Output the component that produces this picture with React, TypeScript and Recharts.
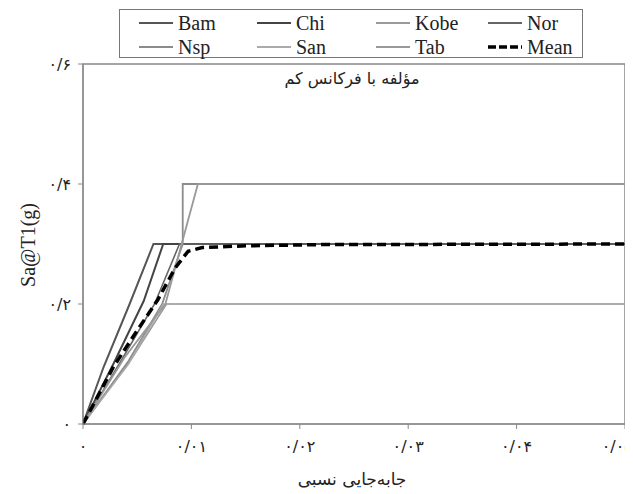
import { LineChart, Line, XAxis, YAxis, ReferenceArea } from 'recharts'

// drift (x) and Sa (y) for each record
const bamDrift = [0, 0.0019, 0.0043, 0.0065, 0.05]
const bamSa = [0, 0.095, 0.2, 0.3, 0.3]
const chiDrift = [0, 0.0028, 0.0056, 0.0074, 0.05]
const chiSa = [0, 0.1, 0.205, 0.3, 0.3]
const kobeDrift = [0, 0.0046, 0.0077, 0.05]
const kobeSa = [0, 0.112, 0.2, 0.2]
const norDrift = [0, 0.0035, 0.0066, 0.0089, 0.05]
const norSa = [0, 0.105, 0.2, 0.3, 0.3]
const nspDrift = [0, 0.0042, 0.0073, 0.0092, 0.0092, 0.05]
const nspSa = [0, 0.105, 0.2, 0.3, 0.4, 0.4]
const sanDrift = [0, 0.0042, 0.0074, 0.05]
const sanSa = [0, 0.1, 0.2, 0.2]
const tabDrift = [0, 0.0038, 0.0076, 0.0106, 0.05]
const tabSa = [0, 0.11, 0.2, 0.4, 0.4]
const meanDrift = [0, 0.0028, 0.0046, 0.0069, 0.0085, 0.0097, 0.011, 0.015, 0.022, 0.05]
const meanSa = [0, 0.095, 0.145, 0.207, 0.26, 0.288, 0.294, 0.297, 0.299, 0.3]

const xTicks = [0, 0.01, 0.02, 0.03, 0.04, 0.05]
const xTickLabels = ['۰', '۰/۰۱', '۰/۰۲', '۰/۰۳', '۰/۰۴', '۰/۰۵']
const yTicks = [0, 0.2, 0.4, 0.6]
const yTickLabels = ['۰', '۰/۲', '۰/۴', '۰/۶']

const pts = (d: number[], s: number[]) => d.map((x, i) => ({ d: x, sa: s[i] }))

const series = [
  { name: 'Bam', data: pts(bamDrift, bamSa), color: '#555', width: 2 },
  { name: 'Chi', data: pts(chiDrift, chiSa), color: '#444', width: 2 },
  { name: 'Kobe', data: pts(kobeDrift, kobeSa), color: '#9a9a9a', width: 1.6 },
  { name: 'Nor', data: pts(norDrift, norSa), color: '#666', width: 1.6 },
  { name: 'Nsp', data: pts(nspDrift, nspSa), color: '#8c8c8c', width: 1.8 },
  { name: 'San', data: pts(sanDrift, sanSa), color: '#aaa', width: 1.6 },
  { name: 'Tab', data: pts(tabDrift, tabSa), color: '#999', width: 1.8 },
]
const mean = pts(meanDrift, meanSa)

const legendCols = [130, 248, 367, 479]
const serif = '"Liberation Serif", "Times New Roman", serif'
const persian = '"DejaVu Sans", sans-serif'

const fmt = (ticks: number[], labels: string[]) => (v: number) => {
  const i = ticks.findIndex(t => Math.abs(t - v) < 1e-9)
  return i >= 0 ? labels[i] : ''
}

export default function App() {
  const items = [...series.map(s => ({ name: s.name, color: s.color, mean: false })), { name: 'Mean', color: '#000', mean: true }]
  return (
    <div style={{ position: 'relative', width: 625, height: 486, background: '#fff' }}>
      <LineChart width={625} height={486} margin={{ top: 56, right: 8, bottom: 40, left: 15 }}>
        <XAxis
          type="number"
          dataKey="d"
          domain={[0, 0.05]}
          ticks={xTicks}
          tickFormatter={fmt(xTicks, xTickLabels)}
          stroke="#888"
          tickSize={5}
          tickMargin={12}
          height={30}
          tick={{ fontSize: 16, fill: '#222', fontFamily: persian }}
          allowDataOverflow
        />
        <YAxis
          type="number"
          dataKey="sa"
          domain={[0, 0.6]}
          ticks={yTicks}
          tickFormatter={fmt(yTicks, yTickLabels)}
          stroke="#888"
          tickSize={5}
          tickMargin={7}
          width={60}
          tick={{ fontSize: 16, fill: '#222', fontFamily: persian }}
        />
        <ReferenceArea x1={0} x2={0.05} y1={0} y2={0.6} fill="none" stroke="#888" strokeWidth={1.5} />
        {series.map(s => (
          <Line
            key={s.name}
            data={s.data}
            dataKey="sa"
            name={s.name}
            type="linear"
            stroke={s.color}
            strokeWidth={s.width}
            dot={false}
            isAnimationActive={false}
          />
        ))}
        <Line
          data={mean}
          dataKey="sa"
          name="Mean"
          type="linear"
          stroke="#000"
          strokeWidth={3.5}
          strokeDasharray="9 5"
          dot={false}
          isAnimationActive={false}
        />
      </LineChart>

      {/* legend box */}
      <div style={{ position: 'absolute', left: 111, top: 1, width: 462, height: 47, border: '1.5px solid #777', background: '#fff', fontFamily: serif, fontSize: 20, color: '#222' }}>
        {items.map((it, i) => (
          <div key={it.name} style={{ position: 'absolute', left: legendCols[i % 4] - 111, top: i < 4 ? 2 : 26, display: 'flex', alignItems: 'center', height: 22 }}>
            <svg width={36} height={10} style={{ marginRight: 3 }}>
              {it.mean ? (
                <line x1={0} y1={5} x2={34} y2={5} stroke="#000" strokeWidth={3.5} strokeDasharray="8 3" />
              ) : (
                <line x1={0} y1={5} x2={34} y2={5} stroke={it.color} strokeWidth={2} />
              )}
            </svg>
            <span>{it.name}</span>
          </div>
        ))}
      </div>

      <div style={{ position: 'absolute', left: 244, top: 61, width: 200, textAlign: 'center', fontFamily: persian, fontSize: 16, color: '#222', direction: 'rtl' }}>
        مؤلفه با فرکانس کم
      </div>

      <div style={{ position: 'absolute', left: 20, top: 237, width: 0, height: 0 }}>
        <div style={{ position: 'absolute', transform: 'translate(-50%, -50%) rotate(-90deg)', whiteSpace: 'nowrap', fontFamily: serif, fontSize: 20, color: '#222' }}>
          Sa@T1(g)
        </div>
      </div>

      <div style={{ position: 'absolute', left: 244, top: 461, width: 200, textAlign: 'center', fontFamily: persian, fontSize: 17, color: '#222', direction: 'rtl' }}>
        جابه‌جایی نسبی
      </div>
    </div>
  )
}
